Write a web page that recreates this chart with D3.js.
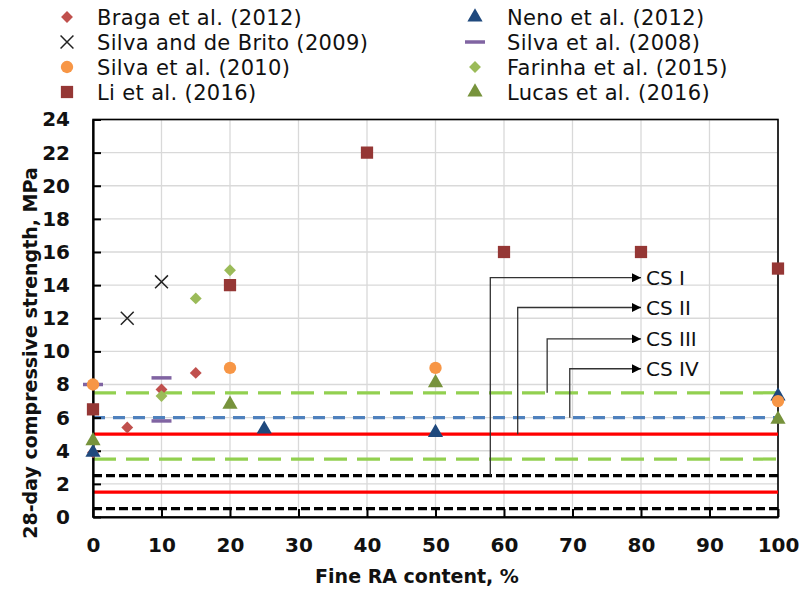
<!DOCTYPE html>
<html>
<head>
<meta charset="utf-8">
<script src="https://cdn.jsdelivr.net/npm/d3@7"></script>
<style>
  html, body { margin: 0; padding: 0; background: #fff; }
  svg { display: block; }
  text { font-family: "DejaVu Sans", sans-serif; fill: #111; }
</style>
</head>
<body>
<svg id="chart" width="799" height="590"></svg>
<script>
// Compressive strength of mixes vs. fine recycled aggregate content
const xTicks = [0, 10, 20, 30, 40, 50, 60, 70, 80, 90, 100];
const yTicks = [0, 2, 4, 6, 8, 10, 12, 14, 16, 18, 20, 22, 24];

// [fine RA %, strength MPa] per study
const braga2012      = [[0, 3.9], [5, 5.4], [10, 7.7], [15, 8.7]];
const silvaBrito2009 = [[5, 12.0], [10, 14.2]];
const neno2012       = [[0, 3.9], [25, 5.3], [50, 5.1], [100, 7.3]];
const silva2008      = [[0, 8.0], [10, 8.4], [10, 5.8]];
const silva2010      = [[0, 8.0], [20, 9.0], [50, 9.0], [100, 7.0]];
const li2016         = [[0, 6.5], [20, 14.0], [40, 22.0], [60, 16.0], [80, 16.0], [100, 15.0]];
const farinha2015    = [[10, 7.3], [15, 13.2], [20, 14.9]];
const lucas2016      = [[0, 4.6], [20, 6.8], [50, 8.1], [100, 5.9]];

// Strength class limits (MPa)
const limitsGreen = [7.5, 3.5];
const limitsBlue  = [6.0];
const limitsRed   = [5.0, 1.5];
const limitsBlack = [2.5, 0.5];

// Class brackets: label, x of riser (%), lower limit, arrow level
const csLabels = ["CS I", "CS II", "CS III", "CS IV"];
const csRiserX = [58, 62, 66.3, 69.6];
const csFrom   = [2.5, 5.0, 7.5, 6.0];
const csArrowY = [14.45, 12.65, 10.75, 8.95];
const csArrowEnd = 80;

const svg = d3.select("#chart");
const x = d3.scaleLinear().domain([0, 100]).range([93, 778]);
const y = d3.scaleLinear().domain([0, 24]).range([517, 119.5]);

// Grid
const grid = svg.append("g");
grid.selectAll("line.h").data(yTicks.slice(1)).join("line")
  .attr("x1", x(0)).attr("x2", x(100))
  .attr("y1", d => y(d)).attr("y2", d => y(d))
  .attr("stroke", "#d9d9d9").attr("stroke-width", 1.3);
grid.selectAll("line.v").data(xTicks.slice(1)).join("line")
  .attr("y1", y(0)).attr("y2", y(24))
  .attr("x1", d => x(d)).attr("x2", d => x(d))
  .attr("stroke", "#d9d9d9").attr("stroke-width", 1.3);

// Frame (top / right)
svg.append("rect")
  .attr("x", x(0)).attr("y", y(24))
  .attr("width", x(100) - x(0)).attr("height", y(0) - y(24))
  .attr("fill", "none").attr("stroke", "#000").attr("stroke-width", 1.6);

// Limit lines
function limitLines(vals, color, dash, width) {
  svg.append("g").selectAll("line").data(vals).join("line")
    .attr("x1", x(0)).attr("x2", x(100))
    .attr("y1", d => y(d)).attr("y2", d => y(d))
    .attr("stroke", color).attr("stroke-width", width)
    .attr("stroke-dasharray", dash);
}
limitLines(limitsGreen, "#92d050", "23,10", 3.2);
limitLines(limitsBlue, "#4f81bd", "12,8", 3.2);
limitLines(limitsRed, "#ff0000", null, 3.2);
limitLines(limitsBlack, "#000", "9,4", 3.2);

// Class brackets with arrows
svg.append("defs").append("marker")
  .attr("id", "arrow").attr("viewBox", "0 0 10 10")
  .attr("refX", 10).attr("refY", 5)
  .attr("markerWidth", 12).attr("markerHeight", 9)
  .attr("markerUnits", "userSpaceOnUse")
  .attr("orient", "auto")
  .append("path").attr("d", "M0,0L10,5L0,10Z").attr("fill", "#000");

const cs = svg.append("g");
csLabels.forEach((lab, i) => {
  cs.append("path")
    .attr("d", d3.line()([
      [x(csRiserX[i]), y(csFrom[i])],
      [x(csRiserX[i]), y(csArrowY[i])],
      [x(csArrowEnd), y(csArrowY[i])]
    ]))
    .attr("fill", "none").attr("stroke", "#333").attr("stroke-width", 1.3)
    .attr("marker-end", "url(#arrow)");
  cs.append("text")
    .attr("x", x(csArrowEnd) + 5).attr("y", y(csArrowY[i]))
    .attr("dy", "0.36em").attr("font-size", 20)
    .attr("font-family", "'DejaVu Sans Condensed', 'DejaVu Sans', sans-serif")
    .text(lab);
});

// Axes
const yAxis = svg.append("g").attr("transform", `translate(${x(0)},0)`)
  .call(d3.axisLeft(y).tickValues(yTicks).tickSizeInner(-8).tickSizeOuter(0).tickPadding(23));
const xAxis = svg.append("g").attr("transform", `translate(0,${y(0)})`)
  .call(d3.axisBottom(x).tickValues(xTicks).tickSizeInner(-8).tickSizeOuter(0).tickPadding(21));
[yAxis, xAxis].forEach(a => {
  a.select(".domain").attr("stroke", "#000").attr("stroke-width", 2.2);
  a.selectAll(".tick line").attr("stroke", "#000").attr("stroke-width", 2);
  a.selectAll(".tick text").attr("font-size", 20).attr("font-weight", "bold").attr("fill", "#111");
});
yAxis.selectAll(".tick text").attr("font-family", "'DejaVu Sans', sans-serif");
xAxis.selectAll(".tick text").attr("font-family", "'DejaVu Sans Condensed', 'DejaVu Sans', sans-serif");

// Axis titles
svg.append("text")
  .attr("x", 417).attr("y", 583)
  .attr("text-anchor", "middle").attr("font-size", 19).attr("font-weight", "bold")
  .text("Fine RA content, %");
svg.append("text")
  .attr("transform", "translate(37,353) rotate(-90)")
  .attr("text-anchor", "middle").attr("font-size", 19).attr("font-weight", "bold")
  .text("28-day compressive strength, MPa");

// Marker shapes
const sym = {
  diamond: d3.symbol().type(d3.symbolDiamond2).size(90),
  cross: d3.symbol().type(d3.symbolX).size(110),
  circle: d3.symbol().type(d3.symbolCircle).size(120),
  square: d3.symbol().type(d3.symbolSquare).size(150),
  triangle: d3.symbol().type(d3.symbolTriangle).size(100)
};

const series = [
  { name: "Braga et al. (2012)", data: braga2012, shape: "diamond", color: "#c0504d" },
  { name: "Silva and de Brito (2009)", data: silvaBrito2009, shape: "cross", color: "#222" },
  { name: "Silva et al. (2010)", data: silva2010, shape: "circle", color: "#f79646" },
  { name: "Li et al. (2016)", data: li2016, shape: "square", color: "#953735" },
  { name: "Neno et al. (2012)", data: neno2012, shape: "triangle", color: "#1f497d" },
  { name: "Silva et al. (2008)", data: silva2008, shape: "dash", color: "#8064a2" },
  { name: "Farinha et al. (2015)", data: farinha2015, shape: "diamond", color: "#9bbb59" },
  { name: "Lucas et al. (2016)", data: lucas2016, shape: "triangle", color: "#77933c" }
];

function drawMarker(g, s, cx, cy) {
  if (s.shape === "dash") {
    g.append("line").attr("x1", cx - 10).attr("x2", cx + 10)
      .attr("y1", cy).attr("y2", cy)
      .attr("stroke", s.color).attr("stroke-width", 3.5);
  } else if (s.shape === "cross") {
    g.append("path").attr("d", sym.cross()).attr("transform", `translate(${cx},${cy})`)
      .attr("fill", "none").attr("stroke", s.color).attr("stroke-width", 1.5);
  } else {
    g.append("path").attr("d", sym[s.shape]()).attr("transform", `translate(${cx},${cy})`)
      .attr("fill", s.color);
  }
}

// Drawing order for the plotted points
const drawOrder = [0, 1, 4, 5, 2, 3, 6, 7];
const pts = svg.append("g");
drawOrder.forEach(i => {
  const s = series[i];
  s.data.forEach(d => drawMarker(pts, s, x(d[0]), y(d[1])));
});

// Legend (two columns, four rows)
const legMarkerX = [67, 475];
const legTextX = [97, 507];
const leg = svg.append("g");
series.forEach((s, i) => {
  const col = Math.floor(i / 4), row = i % 4;
  const my = 17 + row * 25;
  drawMarker(leg, s, legMarkerX[col], my);
  leg.append("text").attr("x", legTextX[col]).attr("y", my).attr("dy", "0.36em")
    .attr("font-size", 21).attr("letter-spacing", 0.35).text(s.name);
});
</script>
</body>
</html>
